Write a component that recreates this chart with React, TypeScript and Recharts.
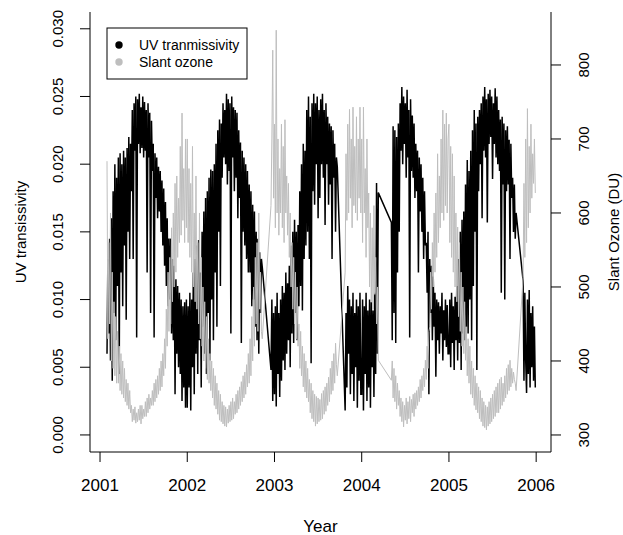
import React from "react";
import { ComposedChart, Line, XAxis, YAxis } from "recharts";

// Daily-ish series sampled every 0.01 yr. UV in units of 1e-4, ozone in DU.
// null = missing days (line is drawn straight across the gap, like R does).
const STEP = 0.01;

const uv2001 = [
  60, 130, 75, 145, 55, 160, 40, 180, 90, 200, 70, 190, 110, 205, 45, 208,
  120, 200, 95, 210, 140, 205, 85, 212, 150, 220, 130, 215, 180, 240, 130, 245,
  210, 250, 72, 248, 215, 252, 208, 242, 212, 250, 205, 246, 210, 240, 120, 245,
  205, 238, 90, 232, 195, 215, 72, 208, 175, 205, 160, 198, 165, 195, 150, 188,
  140, 182, 125, 172, 110, 160, 95, 145, 100, 145, 75, 130, 70, 125, 30, 115,
  60, 110, 50, 105, 45, 100, 25, 95, 35, 98, 20, 100,
];
const uv2002 = [
  20, 95, 35, 105, 18, 100, 50, 120, 30, 130, 60, 140, 45, 144, 70, 120,
  35, 150, 80, 165, 60, 175, 45, 180, 90, 190, 55, 196, 100, 195, 70, 200,
  120, 215, 80, 225, 150, 233, 110, 230, 190, 245, 205, 240, 200, 252, 185, 248,
  195, 245, 75, 250, 205, 242, 180, 240, 190, 238, 160, 225, 175, 216, 68, 210,
  150, 205, 140, 200, 130, 195, 120, 185, 120, 180, 95, 170, 100, 165, 80, 150,
  70, 145, 60, 135, 90, 130, 124, null, null, null, null, null, null, null, null, null,
  48, 100, 25, 90,
];
const uv2003 = [
  30, 95, 21, 105, 45, 90, 28, 100, 40, 110, 55, 105, 48, 120, 60, 112,
  70, 125, 50, 140, 75, 150, 68, 159, 90, 150, 70, 155, 95, 180, 110, 200,
  92, 215, 130, 210, 140, 240, 150, 250, 130, 235, 53, 245, 180, 252, 170, 245,
  200, 250, 160, 240, 175, 248, 200, 252, 190, 240, 155, 245, 200, 235, 170, 230,
  185, 228, 130, 225, 190, 215, 150, 205, 198, null, null, null, null, null, null, null,
  null, 18, 90, 35, 110, 60, 100, 30, 95, 45, 105, 25, 90, 50, 100, 20,
  95, 40, 105, 30,
];
const uv2004 = [
  30, 100, 18, 95, 45, 105, 25, 92, 35, 100, 20, 98, 50, 92, 28, 105,
  45, 186, 60, 179, null, null, null, null, null, null, null, null, null, null, null, null,
  null, null, 157, 70, 228, 90, 225, 68, 220, 120, 230, 150, 245, 210, 257, 200,
  250, 215, 245, 190, 255, 205, 240, 72, 248, 195, 236, 190, 230, 175, 215, 180,
  210, 120, 205, 165, 200, 150, 190, 130, 180, 140, 142, 105, 150, 30, 130, 90,
  125, 70, 117, 80, 105, 43, 100, 70, 98, 60, 95, 75, 105, 55, 92, 70,
  100, 65, 96, 60,
];
const uv2005 = [
  60, 100, 50, 105, 68, 95, 48, 102, 70, 110, 55, 130, 68, 150, 48, 159,
  75, 165, 70, 185, 80, 203, 75, 195, 100, 210, 70, 225, 110, 240, 150, 230,
  48, 235, 180, 240, 200, 245, 160, 250, 210, 257, 205, 248, 157, 252, 215, 255,
  220, 250, 189, 245, 215, 256, 205, 250, 200, 240, 195, 233, 105, 235, 185, 230,
  100, 225, 180, 228, 185, 218, 130, 215, 175, 190, 150, 185, 145, 164, null, null,
  null, null, null, null, null, 114, 40, 105, 55, 31, 100, 45, 107, 35, 90, 50,
  95, 40, 80, 35,
];

const oz2001 = [
  670, 430, 560, 450, 600, 400, 520, 390, 480, 380, 460, 370, 440, 370, 420, 360,
  410, 355, 400, 350, 390, 345, 375, 340, 370, 335, 360, 330, 340, 318, 335, 320,
  338, 316, 330, 318, 335, 320, 340, 315, 340, 322, 335, 325, 345, 325, 350, 330,
  355, 335, 350, 340, 360, 340, 370, 345, 375, 350, 380, 355, 390, 360, 400, 365,
  410, 380, 430, 390, 470, 420, 520, 440, 540, 450, 580, 480, 600, 500, 640, 520,
  650, 540, 620, 560, 690, 570, 735, 590, 660, 560, 700, 580,
];
const oz2002 = [
  700, 560, 660, 540, 640, 520, 690, 500, 600, 480, 650, 470, 560, 450, 600, 430,
  540, 420, 500, 400, 480, 390, 460, 375, 430, 370, 410, 360, 400, 350, 390, 340,
  380, 335, 370, 328, 360, 320, 355, 318, 345, 315, 340, 312, 338, 311, 335, 316,
  340, 318, 345, 320, 350, 322, 345, 328, 355, 330, 360, 335, 365, 340, 372, 345,
  380, 350, 385, 355, 395, 365, 410, 370, 430, 380, 460, 400, 500, 420, 540, 450,
  560, 440, 600, 470, 520, 440, 430, null, null, null, null, null, null, null, null, null,
  610, 700, 820, 620,
];
const oz2003 = [
  720, 580, 847, 600, 700, 570, 660, 600, 720, 580, 690, 560, 726, 600, 650, 570,
  640, 540, 600, 500, 560, 470, 540, 450, 520, 430, 500, 420, 450, 390, 440, 380,
  420, 365, 410, 358, 400, 350, 390, 345, 375, 330, 370, 322, 360, 318, 355, 312,
  352, 315, 350, 318, 348, 320, 356, 322, 360, 328, 365, 332, 370, 340, 378, 345,
  390, 355, 400, 360, 410, 370, 424, 395, 380, null, null, null, null, null, null, null,
  null, 520, 680, 590, 720, 600, 740, 620, 700, 580, 743, 610, 690, 600, 730, 590,
  700, 620, 743, 600,
];
const oz2004 = [
  700, 560, 743, 600, 660, 540, 700, 580, 627, 500, 600, 480, 580, 470, 610, 490,
  540, 450, 500, 401, null, null, null, null, null, null, null, null, null, null, null, null,
  null, null, 374, 400, 350, 390, 345, 380, 335, 370, 340, 360, 325, 350, 318, 345,
  311, 340, 320, 350, 315, 345, 322, 352, 318, 348, 330, 355, 325, 357, 335, 360,
  340, 365, 345, 375, 350, 380, 360, 390, 365, 401, 375, 420, 390, 440, 446, 520,
  470, 560, 500, 600, 520, 627, 540, 680, 560, 650, 580, 700, 600, 739, 590, 720,
  610, 735, 600, 700,
];
const oz2005 = [
  720, 560, 690, 540, 680, 520, 650, 500, 600, 480, 581, 460, 560, 440, 520, 420,
  500, 410, 480, 401, 446, 380, 430, 370, 420, 355, 400, 350, 390, 340, 380, 334,
  370, 330, 365, 322, 360, 318, 350, 312, 345, 310, 340, 307, 338, 312, 345, 315,
  350, 318, 355, 322, 360, 325, 365, 330, 370, 330, 375, 335, 378, 340, 370, 345,
  380, 350, 390, 355, 395, 360, 401, 365, 390, 370, 385, 375, 370, 360, null, null,
  null, null, null, null, null, 513, 640, 540, 700, 560, 741, 580, 690, 600, 720, 620,
  680, 640, 700, 627,
];

const yearStarts = [2001.08, 2002, 2003, 2004, 2005];
const uvByYear = [uv2001, uv2002, uv2003, uv2004, uv2005];
const ozByYear = [oz2001, oz2002, oz2003, oz2004, oz2005];

const xTicks = [2001, 2002, 2003, 2004, 2005, 2006];
const uvTicks = [0, 0.005, 0.01, 0.015, 0.02, 0.025, 0.03];
const ozTicks = [300, 400, 500, 600, 700, 800];

const data = yearStarts.flatMap((start, k) =>
  uvByYear[k].map((u, i) => ({
    t: +(start + i * STEP).toFixed(2),
    uv: u == null ? null : u / 10000,
    oz: ozByYear[k][i],
  }))
);

// layout (page pixels)
const W = 623;
const H = 535;
const PLOT_L = 90;
const PLOT_R = 551;
const PLOT_T = 12;
const PLOT_B = 452;
const FONT = '"Liberation Sans", Arial, Helvetica, sans-serif';
const GREY = "#BEBEBE";

const BottomTick = ({ x, payload }: any) => (
  <g>
    <line x1={x} x2={x} y1={PLOT_B} y2={PLOT_B + 10} stroke="#000" />
    <text x={x} y={485} textAnchor="middle" dominantBaseline="central" fontSize={17} fontFamily={FONT} fill="#000">
      {payload.value}
    </text>
  </g>
);

const LeftTick = ({ y, payload }: any) => (
  <g>
    <line x1={PLOT_L - 10} x2={PLOT_L} y1={y} y2={y} stroke="#000" />
    <text x={58} y={y} transform={`rotate(-90, 58, ${y})`} textAnchor="middle" dominantBaseline="central" fontSize={15} fontFamily={FONT} fill="#000">
      {Number(payload.value).toFixed(3)}
    </text>
  </g>
);

const RightTick = ({ y, payload }: any) => (
  <g>
    <line x1={PLOT_R} x2={PLOT_R + 10} y1={y} y2={y} stroke="#000" />
    <text x={584} y={y} transform={`rotate(-90, 584, ${y})`} textAnchor="middle" dominantBaseline="central" fontSize={15} fontFamily={FONT} fill="#000">
      {payload.value}
    </text>
  </g>
);

export default function App() {
  const midY = (PLOT_T + PLOT_B) / 2;
  return (
    <div style={{ position: "absolute", left: 0, top: 0, width: W, height: H, background: "#fff" }}>
      <ComposedChart
        width={W}
        height={H}
        data={data}
        margin={{ top: PLOT_T, right: 0, bottom: 0, left: 0 }}
      >
        <XAxis
          dataKey="t"
          type="number"
          domain={[2000.885, 2006.17]}
          allowDataOverflow
          ticks={xTicks}
          interval={0}
          height={H - PLOT_B}
          axisLine={{ stroke: "#000" }}
          tickLine={false}
          tick={<BottomTick />}
        />
        <XAxis
          xAxisId="top"
          dataKey="t"
          type="number"
          domain={[2000.885, 2006.17]}
          allowDataOverflow
          orientation="top"
          height={0}
          tick={false}
          tickLine={false}
          axisLine={{ stroke: "#000" }}
        />
        <YAxis
          yAxisId="uv"
          type="number"
          domain={[-0.00126, 0.03124]}
          allowDataOverflow
          ticks={uvTicks}
          interval={0}
          width={PLOT_L}
          axisLine={{ stroke: "#000" }}
          tickLine={false}
          tick={<LeftTick />}
        />
        <YAxis
          yAxisId="oz"
          orientation="right"
          type="number"
          domain={[277, 871.6]}
          allowDataOverflow
          ticks={ozTicks}
          interval={0}
          width={W - PLOT_R}
          axisLine={{ stroke: "#000" }}
          tickLine={false}
          tick={<RightTick />}
        />
        <Line
          yAxisId="uv"
          dataKey="uv"
          type="linear"
          stroke="#000"
          strokeWidth={1.5}
          dot={false}
          connectNulls
          isAnimationActive={false}
        />
        <Line
          yAxisId="oz"
          dataKey="oz"
          type="linear"
          stroke={GREY}
          strokeWidth={1}
          dot={false}
          connectNulls
          isAnimationActive={false}
        />
      </ComposedChart>
      <svg
        width={W}
        height={H}
        style={{ position: "absolute", left: 0, top: 0, pointerEvents: "none" }}
        fontFamily={FONT}
      >
        <rect x={107} y={28} width={140} height={51} fill="none" stroke="#000" />
        <circle cx={119} cy={45} r={3.7} fill="#000" />
        <circle cx={119} cy={62} r={3.7} fill={GREY} />
        <text x={139} y={45} fontSize={14} dominantBaseline="central">UV tranmissivity</text>
        <text x={139} y={62} fontSize={14} dominantBaseline="central">Slant ozone</text>
        <text x={(PLOT_L + PLOT_R) / 2} y={526} fontSize={17} textAnchor="middle" dominantBaseline="central">Year</text>
        <text x={20} y={midY} fontSize={15} textAnchor="middle" dominantBaseline="central" transform={`rotate(-90, 20, ${midY})`}>
          UV transissivity
        </text>
        <text x={613} y={midY} fontSize={15} textAnchor="middle" dominantBaseline="central" transform={`rotate(-90, 613, ${midY})`}>
          Slant Ozone (DU)
        </text>
      </svg>
    </div>
  );
}
